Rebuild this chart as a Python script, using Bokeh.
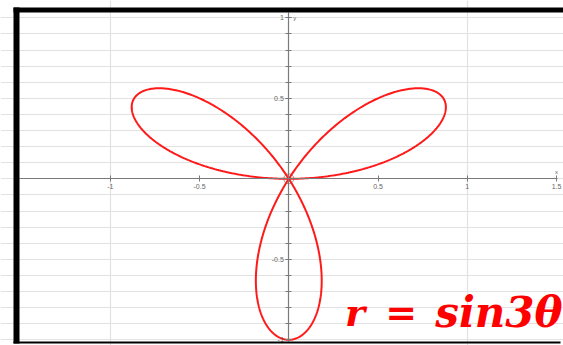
import numpy as np
from bokeh.plotting import figure
from bokeh.models import Range1d, FixedTicker, BoxAnnotation, Label
from bokeh.embed import file_html
from bokeh.resources import INLINE

# Polar rose r = sin(3*theta), traced over one full period
k = 3
theta = np.linspace(0, np.pi, 721)
r = np.sin(k * theta)
xs = r * np.cos(theta)
ys = r * np.sin(theta)

# Axis ticks and their labels
x_ticks = [-1, -0.5, 0.5, 1, 1.5]
x_tick_labels = ["-1", "-0.5", "0.5", "1", "1.5"]
y_ticks = [-1, -0.5, 0.5, 1]
y_tick_labels = ["-1", "-0.5", "0.5", "1"]
y_minor_ticks = [round(v, 1) for v in np.arange(-1.0, 1.01, 0.1)]
x_grid_lines = [-1, 1]

# visible graph window (data units) inside the page
view_x = (-1.509, 1.505)
view_y = (-1.013, 1.033)

p = figure(width=563, height=345, output_backend="svg", toolbar_location=None,
           x_range=Range1d(-1.615, 1.539), y_range=Range1d(-1.0354, 1.1075),
           min_border=0)
p.background_fill_color = "white"
p.border_fill_color = "white"
p.outline_line_color = None

# axes drawn through the origin
p.xaxis.fixed_location = 0
p.yaxis.fixed_location = 0
p.xaxis.bounds = view_x
p.yaxis.bounds = view_y
for ax in (p.xaxis, p.yaxis):
    ax.axis_line_color = "#7a7a7a"
    ax.axis_line_width = 1.2
    ax.major_tick_line_color = "#7a7a7a"
    ax.minor_tick_line_color = "#7a7a7a"
    ax.major_tick_in = 3
    ax.major_tick_out = 3
    ax.minor_tick_in = 3
    ax.minor_tick_out = 3
    ax.major_label_text_font = "Arial"
    ax.major_label_text_font_size = "7px"
    ax.major_label_text_color = "#666666"
    ax.major_label_standoff = 2

p.xaxis.ticker = FixedTicker(ticks=x_ticks, minor_ticks=[])
p.xaxis.major_label_overrides = dict(zip(x_ticks, x_tick_labels))
p.yaxis.ticker = FixedTicker(ticks=y_ticks, minor_ticks=y_minor_ticks)
p.yaxis.major_label_overrides = dict(zip(y_ticks, y_tick_labels))

p.xgrid.ticker = FixedTicker(ticks=x_grid_lines, minor_ticks=[])
p.ygrid.ticker = FixedTicker(ticks=y_minor_ticks, minor_ticks=[])
p.xgrid.bounds = view_y
p.ygrid.bounds = view_x
for g in (p.xgrid, p.ygrid):
    g.grid_line_color = "#e2e2e2"
    g.grid_line_width = 1.2

# axis names next to the axis ends
p.add_layout(Label(x=1.5, y=0.025, text="x", text_font_size="6px", text_color="#666666",
                   text_align="center", text_baseline="bottom"))
p.add_layout(Label(x=0.025, y=1.0, text="y", text_font_size="6px", text_color="#666666",
                   text_align="left", text_baseline="middle"))

# origin marker
p.scatter([0], [0], size=10, fill_color=None, line_color="#9a9a9a", line_width=1)

# the rose curve
p.line(xs, ys, line_color="#ff1a1a", line_width=2)

# equation caption, set in three pieces for math-style spacing
cap = dict(text_font="DejaVu Serif", text_font_style="bold italic",
           text_color="#ff0000", text_baseline="alphabetic", y=-0.83)
p.add_layout(Label(x=0.315, text="r", text_font_size="38px", text_align="left", **cap))
p.add_layout(Label(x=0.63, text="=", text_font_size="38px", text_align="center", **cap))
p.add_layout(Label(x=1.534, text="sin3θ", text_font_size="42px", text_align="right", **cap))

# black frame strips on the left, top and bottom edges
for l, rt, t, b in [(13, 19, 7, 343), (13, 563, 7, 12), (13, 560, 341, 343)]:
    p.add_layout(BoxAnnotation(left=l, right=rt, top=t, bottom=b,
                               left_units="canvas", right_units="canvas",
                               top_units="canvas", bottom_units="canvas",
                               fill_color="black", fill_alpha=1, line_color=None))

open("out.html", "w").write(file_html(p, INLINE))
